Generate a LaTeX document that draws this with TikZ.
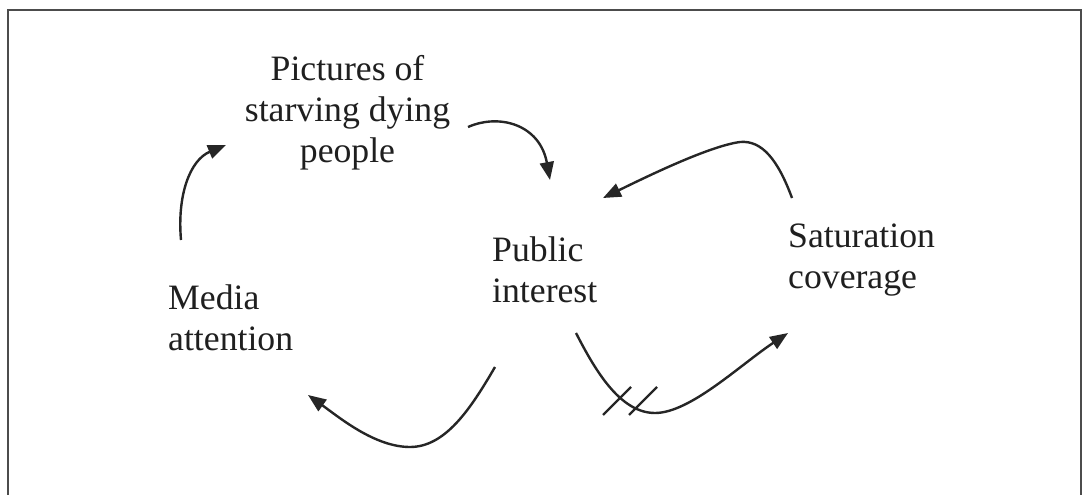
\documentclass[tikz,border=0pt]{standalone}
\usepackage{fontspec}
\setmainfont{Liberation Serif}
\usetikzlibrary{arrows.meta}
\begin{document}
\begin{tikzpicture}[x=1pt,y=-1pt,
  lbl/.style={inner sep=0pt, font=\fontsize{35.7}{41}\selectfont, text=black!88},
  conn/.style={line width=2.4pt, draw=black!85, -{Triangle[length=18pt,width=14pt]}},
  hatch/.style={line width=2.4pt, draw=black!85}]
\useasboundingbox (0,0) rectangle (1082,495);
\clip (0,0) rectangle (1082,495);
\draw[line width=2.3pt, black!70] (8,510) -- (8,10) -- (1081,10) -- (1081,510);

% anchor=base refers to the baseline of the last line
\node[lbl, align=center, anchor=base] (pic) at (347.5,162) {Pictures of\\starving dying\\people};
\node[lbl, align=left, anchor=base west] (pub) at (492,302) {Public\\interest};
\node[lbl, align=left, anchor=base west] (sat) at (788,288) {Saturation\\coverage};
\node[lbl, align=left, anchor=base west] (med) at (168,350) {Media\\attention};

% connector end points
\coordinate (m1) at (181,240);
\coordinate (p1) at (226,145);
\coordinate (p2) at (468,127);
\coordinate (u1) at (550,180);
\coordinate (s1) at (792,198);
\coordinate (u2) at (603,198);
\coordinate (u3) at (576,333);
\coordinate (s2) at (788,333);
\coordinate (u4) at (495,367);
\coordinate (m2) at (308,395);

\draw[conn] (m1) .. controls (177,195) and (190,160) .. (p1);
\draw[conn] (p2) .. controls (500,113) and (540,125) .. (u1);
\draw[conn] (s1) .. controls (778,160) and (762,140) .. (740,142)
                 .. controls (710,146) and (650,175) .. (u2);
\draw[conn] (u3) .. controls (595,370) and (620,413) .. (655,413)
                 .. controls (690,413) and (740,365) .. (s2);
\draw[hatch] (603,415) -- (631,387);
\draw[hatch] (629,415) -- (657,387);
\draw[conn] (u4) .. controls (470,410) and (445,447) .. (410,447)
                 .. controls (375,447) and (340,418) .. (m2);
\end{tikzpicture}
\end{document}
